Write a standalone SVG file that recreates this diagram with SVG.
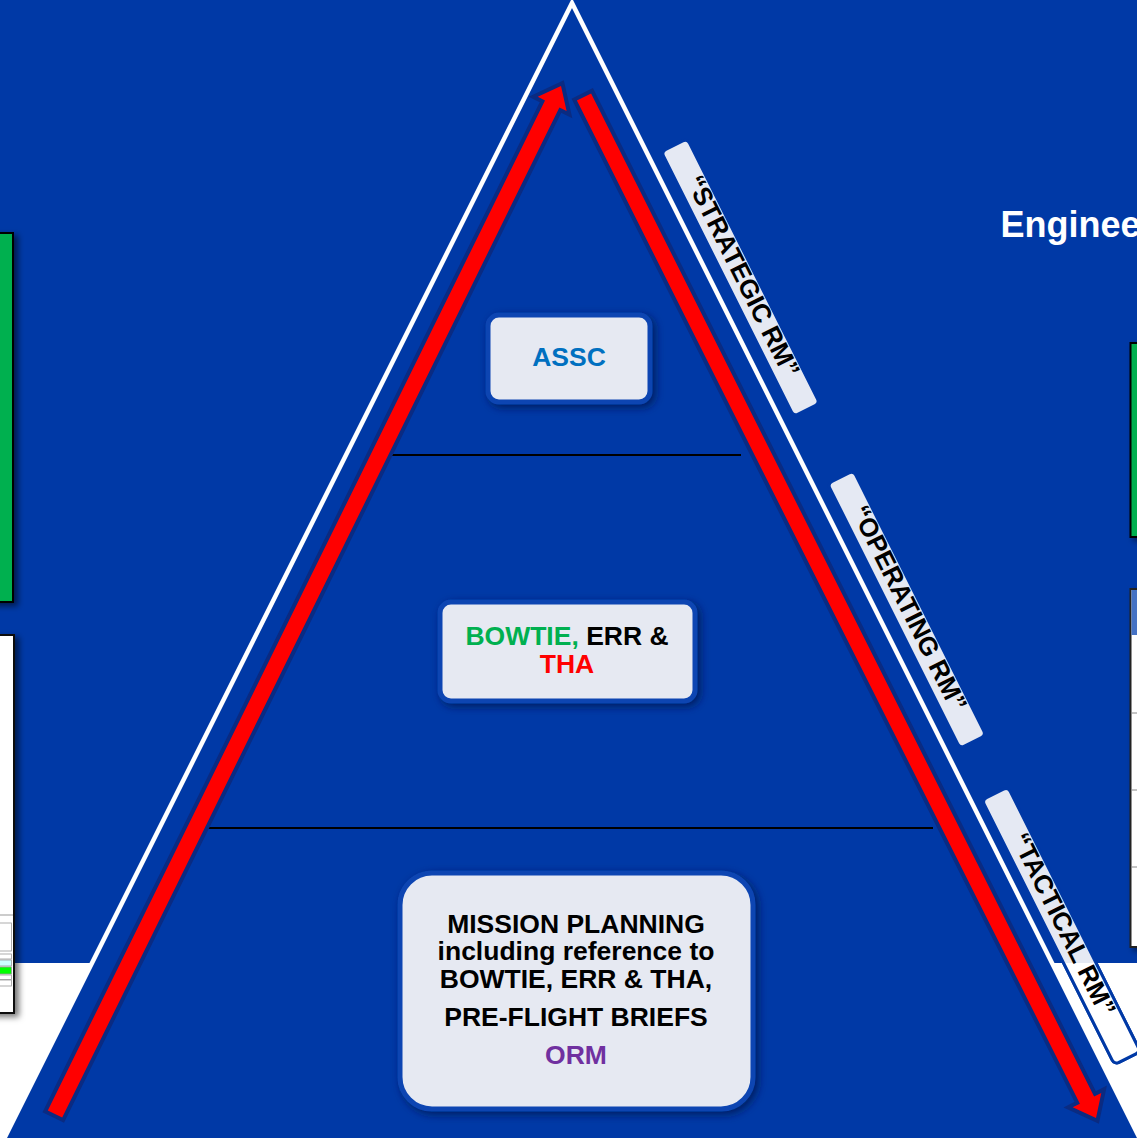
<svg xmlns="http://www.w3.org/2000/svg" width="1137" height="1138" viewBox="0 0 1137 1138">
  <defs>
    <style>
      .bold { font-family: "Liberation Sans", Arial, sans-serif; font-weight: bold; }
      .node-text { font-size: 26.5px; text-anchor: middle; fill: #000; }
      .tag { fill: #E5E9F3; stroke: #0039A6; stroke-width: 3; }
      .tag-text { font-size: 26px; text-anchor: middle; fill: #000; }
      .card { fill: #E6E9F2; stroke: #0C45B2; stroke-width: 5; filter: url(#lift); }
      .arrow { fill: #FF0000; stroke: #0A2B82; stroke-width: 8; stroke-linejoin: miter; paint-order: stroke; }
      .tier { stroke: #000; stroke-width: 2; }
      .panel { filter: url(#panelShadow); }
    </style>
    <filter id="lift" x="-20%" y="-20%" width="140%" height="140%">
      <feDropShadow dx="3" dy="3" stdDeviation="4" flood-color="#001650" flood-opacity="0.8"/>
    </filter>
    <filter id="panelShadow" x="-50%" y="-10%" width="200%" height="120%">
      <feDropShadow dx="4" dy="3" stdDeviation="3" flood-color="#000" flood-opacity="0.55"/>
    </filter>
    <clipPath id="lowerStrip">
      <rect x="0" y="963" width="1137" height="175"/>
    </clipPath>
  </defs>

  <!-- page background: blue field over a white footer strip -->
  <rect width="1137" height="1138" fill="#0039A6"/>
  <rect x="0" y="963" width="1137" height="175" fill="#FFFFFF"/>

  <!-- side panels, cut off at the page edges -->
  <g id="left-green-panel" class="panel">
    <rect x="-10" y="233" width="23" height="369" fill="#00B050" stroke="#000" stroke-width="2"/>
  </g>
  <g id="left-document-panel" class="panel">
    <rect x="-10" y="635" width="24" height="378" fill="#FFFFFF" stroke="#111" stroke-width="2"/>
    <line x1="0" y1="915" x2="13" y2="915" stroke="#999" stroke-width="1"/>
    <rect x="-2" y="923" width="13.5" height="28" fill="#FFFFFF" stroke="#999" stroke-width="0.8"/>
    <rect x="-2" y="954" width="13.5" height="5" fill="#FFFFFF" stroke="#999" stroke-width="0.8"/>
    <rect x="-2" y="960" width="13.5" height="6" fill="#CCFFFF" stroke="#999" stroke-width="0.8"/>
    <rect x="-2" y="967" width="13.5" height="7" fill="#00FF00" stroke="#999" stroke-width="0.8"/>
    <rect x="-2" y="975" width="13.5" height="4.5" fill="#FFFFFF" stroke="#999" stroke-width="0.8"/>
    <rect x="-2" y="980" width="13.5" height="6" fill="#FFFFFF" stroke="#999" stroke-width="0.8"/>
  </g>
  <g id="right-green-panel" class="panel">
    <rect x="1130.5" y="343" width="20" height="194" fill="#00B050" stroke="#000" stroke-width="2"/>
  </g>
  <g id="right-table-panel" class="panel">
    <rect x="1130.5" y="589" width="20" height="358" fill="#FFFFFF" stroke="#222" stroke-width="2"/>
    <rect x="1131.5" y="590" width="10" height="45" fill="#4472C4"/>
    <g stroke="#888" stroke-width="1">
      <line x1="1131.5" y1="713" x2="1137" y2="713"/>
      <line x1="1131.5" y1="790" x2="1137" y2="790"/>
      <line x1="1131.5" y1="867" x2="1137" y2="867"/>
    </g>
  </g>
  <g id="heading">
    <text class="bold" x="1000.5" y="236.5" font-size="36" fill="#FFFFFF">Enginee</text>
  </g>

  <!-- the pyramid and its tiers -->
  <polygon points="572,3 3,1141 1141,1141" fill="#0039A6" stroke="#FFFFFF" stroke-width="4.5"/>
  <line class="tier" x1="390" y1="455" x2="741" y2="455"/>
  <line class="tier" x1="207" y1="828" x2="933" y2="828"/>

  <!-- tier labels along the right flank -->
  <g id="label-strategic" transform="translate(740.5,277.5) rotate(63.43)">
    <rect class="tag" x="-148" y="-14.5" width="296" height="29" rx="5"/>
    <text class="bold tag-text" x="0" y="6">“STRATEGIC RM”</text>
  </g>
  <g id="label-operating" transform="translate(906.75,609.5) rotate(63.43)">
    <rect class="tag" x="-148" y="-14.5" width="296" height="29" rx="5"/>
    <text class="bold tag-text" x="0" y="6">“OPERATING RM”</text>
  </g>
  <g id="label-tactical">
    <g transform="translate(1061.2,925.8) rotate(63.43)">
      <rect class="tag" x="-148" y="-14.5" width="296" height="29" rx="5"/>
    </g>
    <g clip-path="url(#lowerStrip)">
      <rect transform="translate(1061.2,925.8) rotate(63.43)" x="-148" y="-14.5" width="296" height="29" rx="5" fill="#FFFFFF" stroke="#0039A6" stroke-width="3"/>
    </g>
    <text class="bold tag-text" transform="translate(1061.2,925.8) rotate(63.43)" x="0" y="6">“TACTICAL RM”</text>
  </g>

  <!-- up and down flow arrows -->
  <g id="connectors">
    <polygon class="arrow" points="47.8,1110.5 545,100.4 537.8,96.8 561,86 566.6,111 559.4,107.4 62.2,1117.5"/>
    <polygon class="arrow" points="591.1,93.4 1094.1,1096.5 1101.3,1092.9 1096,1118 1072.7,1107.3 1079.9,1103.7 576.9,100.6"/>
  </g>

  <!-- tier contents -->
  <g id="node-assc">
    <rect class="card" x="488" y="315" width="162" height="87" rx="11"/>
    <text class="bold node-text" x="569" y="366" style="fill:#0070C0">ASSC</text>
  </g>
  <g id="node-bowtie">
    <rect class="card" x="440" y="602" width="255" height="99" rx="11"/>
    <text class="bold node-text" x="567" y="645"><tspan fill="#00B050">BOWTIE,</tspan><tspan> ERR &amp;</tspan></text>
    <text class="bold node-text" x="567" y="673.3" style="fill:#FF0000">THA</text>
  </g>
  <g id="node-mission">
    <rect class="card" x="400" y="873" width="353" height="236" rx="32"/>
    <text class="bold node-text" x="576" y="932.7">MISSION PLANNING</text>
    <text class="bold node-text" x="576" y="960">including reference to</text>
    <text class="bold node-text" x="576" y="988.3">BOWTIE, ERR &amp; THA,</text>
    <text class="bold node-text" x="576" y="1026">PRE-FLIGHT BRIEFS</text>
    <text class="bold node-text" x="576" y="1064" style="fill:#7030A0">ORM</text>
  </g>
</svg>
